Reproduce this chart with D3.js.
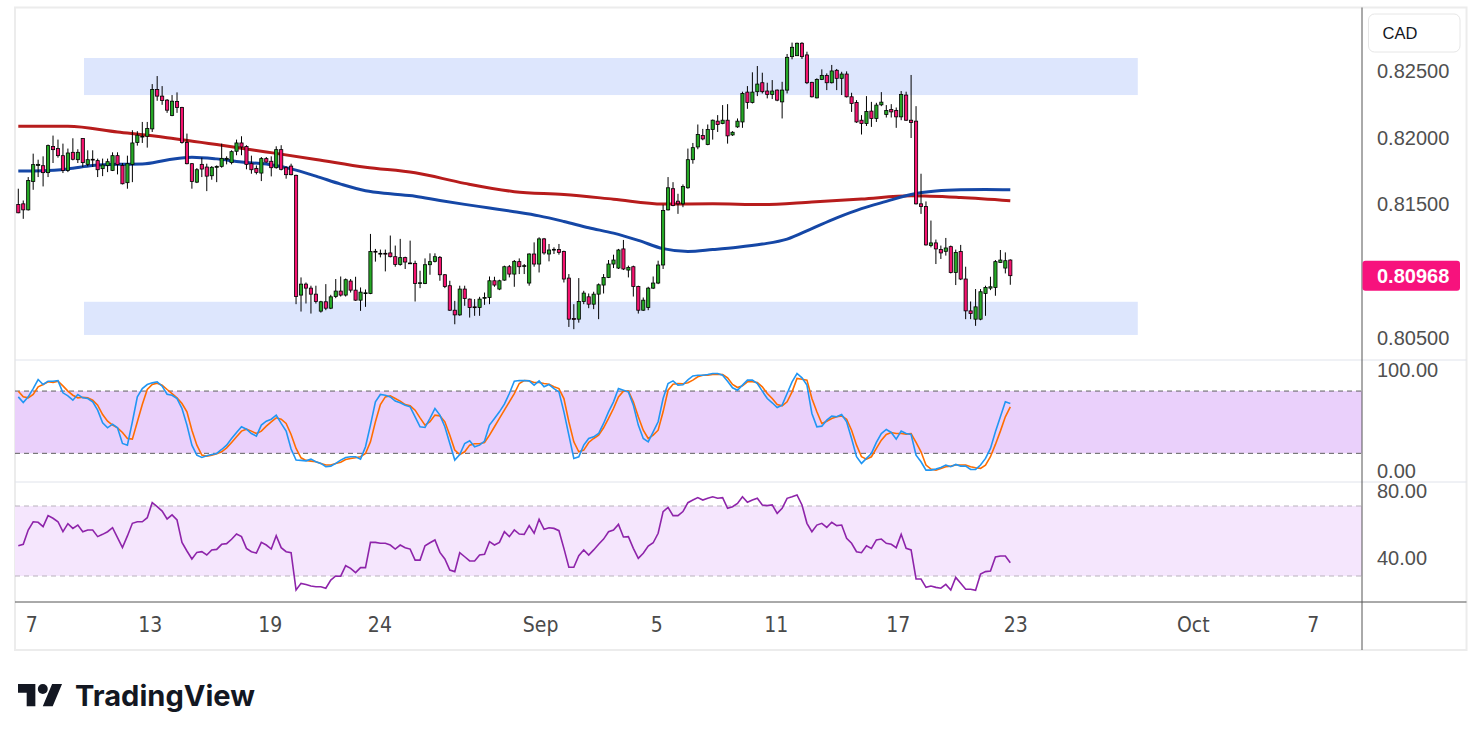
<!DOCTYPE html>
<html>
<head>
<meta charset="utf-8">
<script src="https://cdn.jsdelivr.net/npm/d3@7"></script>
<style>
  body { margin: 0; background: #fff; }
  svg { display: block; }
</style>
</head>
<body>
<svg id="chart" width="1482" height="740"></svg>
<script>
// 4h candles, USD/CAD-style quote in CAD
const opens = [
  0.81500,0.81505,0.81460,0.81672,0.81792,0.81790,0.81738,0.81933,0.81918,0.81865,
  0.81755,0.81890,0.81835,0.81993,0.81800,0.81838,0.81828,0.81768,0.81792,0.81755,
  0.81865,0.81792,0.81663,0.81800,0.81963,0.82005,0.82010,0.82065,0.82360,0.82310,
  0.82280,0.82165,0.82270,0.82225,0.81963,0.81805,0.81667,0.81800,0.81780,0.81715,
  0.81778,0.81785,0.81838,0.81813,0.81898,0.81960,0.81933,0.81805,0.81770,0.81735,
  0.81843,0.81823,0.81775,0.81910,0.81775,0.81787,0.81718,0.80823,0.80905,0.80875,
  0.80830,0.80703,0.80773,0.80725,0.80812,0.80853,0.80823,0.80928,0.80860,0.80785,
  0.80835,0.80835,0.81150,0.81130,0.81135,0.81138,0.81110,0.81052,0.81103,0.81063,
  0.81060,0.80910,0.80910,0.81050,0.81075,0.81105,0.80975,0.80893,0.80710,0.80675,
  0.80868,0.80793,0.80735,0.80730,0.80800,0.80805,0.80930,0.80868,0.80935,0.81035,
  0.80980,0.81073,0.81038,0.80913,0.81130,0.81055,0.81243,0.81130,0.81160,0.81163,
  0.81148,0.80950,0.80648,0.80643,0.80775,0.80810,0.80755,0.80830,0.80898,0.80955,
  0.81055,0.81025,0.81168,0.81010,0.81035,0.80887,0.80710,0.80730,0.80875,0.80913,
  0.81048,0.81460,0.81618,0.81525,0.81505,0.81625,0.81835,0.81930,0.82015,0.81948,
  0.82060,0.82123,0.82105,0.82130,0.82020,0.82080,0.82117,0.82340,0.82263,0.82343,
  0.82410,0.82348,0.82323,0.82355,0.82267,0.82355,0.82605,0.82612,0.82705,0.82618,
  0.82413,0.82297,0.82435,0.82465,0.82410,0.82503,0.82443,0.82475,0.82305,0.82263,
  0.82130,0.82105,0.82198,0.82143,0.82245,0.82173,0.82210,0.82203,0.82155,0.82318,
  0.82130,0.82123,0.81505,0.81485,0.81193,0.81213,0.81163,0.81150,0.81185,0.80992,
  0.81148,0.80943,0.80705,0.80643,0.80643,0.80835,0.80875,0.80880,0.81067,0.81025,
  0.81085
];
const highs = [
  0.81618,0.81530,0.81705,0.81880,0.81835,0.81860,0.81948,0.82015,0.81985,0.81955,
  0.81918,0.81995,0.81913,0.81995,0.81905,0.81905,0.81843,0.81843,0.81843,0.81890,
  0.81890,0.81810,0.81865,0.82055,0.82048,0.82117,0.82117,0.82400,0.82460,0.82385,
  0.82288,0.82318,0.82338,0.82230,0.82030,0.81810,0.81772,0.81850,0.81805,0.81787,
  0.81792,0.81955,0.81860,0.81905,0.81985,0.82010,0.81943,0.81865,0.81792,0.81855,
  0.81855,0.81860,0.81935,0.81943,0.81785,0.81805,0.81723,0.80955,0.80917,0.80893,
  0.80893,0.80780,0.80905,0.80825,0.80943,0.80962,0.80947,0.80943,0.80960,0.80880,
  0.80865,0.81280,0.81168,0.81163,0.81163,0.81268,0.81193,0.81243,0.81110,0.81230,
  0.81080,0.81005,0.81097,0.81135,0.81135,0.81115,0.80980,0.80930,0.80780,0.80893,
  0.80893,0.80797,0.80793,0.80810,0.80842,0.80962,0.80960,0.80938,0.81043,0.81048,
  0.81085,0.81097,0.81055,0.81135,0.81217,0.81255,0.81250,0.81205,0.81180,0.81205,
  0.81155,0.80980,0.80755,0.80950,0.80855,0.80835,0.80848,0.80910,0.80980,0.81085,
  0.81125,0.81168,0.81235,0.81043,0.81043,0.80893,0.80805,0.80885,0.80962,0.81080,
  0.81498,0.81705,0.81667,0.81580,0.81650,0.81918,0.81960,0.82098,0.82065,0.82098,
  0.82135,0.82168,0.82243,0.82250,0.82048,0.82143,0.82343,0.82385,0.82488,0.82535,
  0.82485,0.82410,0.82430,0.82360,0.82417,0.82625,0.82710,0.82710,0.82713,0.82642,
  0.82417,0.82443,0.82510,0.82480,0.82543,0.82513,0.82492,0.82495,0.82335,0.82280,
  0.82168,0.82310,0.82267,0.82260,0.82340,0.82243,0.82250,0.82225,0.82348,0.82343,
  0.82468,0.82235,0.81730,0.81523,0.81380,0.81238,0.81193,0.81250,0.81193,0.81163,
  0.81198,0.81035,0.80775,0.80868,0.80868,0.80893,0.80960,0.81085,0.81160,0.81142,
  0.81090
];
const lows = [
  0.81435,0.81393,0.81455,0.81610,0.81705,0.81635,0.81705,0.81810,0.81850,0.81735,
  0.81742,0.81830,0.81810,0.81780,0.81785,0.81780,0.81705,0.81712,0.81742,0.81750,
  0.81725,0.81650,0.81618,0.81667,0.81940,0.81960,0.81925,0.82042,0.82275,0.82245,
  0.82185,0.82160,0.82185,0.81955,0.81800,0.81618,0.81660,0.81705,0.81600,0.81685,
  0.81667,0.81775,0.81800,0.81800,0.81868,0.81868,0.81763,0.81730,0.81725,0.81675,
  0.81813,0.81710,0.81768,0.81755,0.81693,0.81718,0.80755,0.80700,0.80760,0.80685,
  0.80760,0.80692,0.80710,0.80718,0.80800,0.80812,0.80812,0.80842,0.80780,0.80705,
  0.80735,0.80830,0.81073,0.81105,0.81000,0.81105,0.81035,0.81043,0.81018,0.81055,
  0.80775,0.80875,0.80905,0.80975,0.81067,0.80930,0.80875,0.80705,0.80605,0.80668,
  0.80743,0.80655,0.80668,0.80668,0.80750,0.80755,0.80885,0.80860,0.80930,0.80955,
  0.80885,0.80980,0.80980,0.80893,0.81035,0.80992,0.81125,0.81075,0.81130,0.81125,
  0.80917,0.80585,0.80568,0.80617,0.80755,0.80725,0.80718,0.80643,0.80835,0.80950,
  0.81025,0.81018,0.81010,0.80955,0.80812,0.80685,0.80705,0.80710,0.80868,0.80905,
  0.81018,0.81455,0.81487,0.81430,0.81480,0.81618,0.81805,0.81913,0.81980,0.81943,
  0.81985,0.82042,0.82100,0.81955,0.82013,0.82073,0.82073,0.82215,0.82255,0.82310,
  0.82330,0.82293,0.82288,0.82272,0.82143,0.82330,0.82585,0.82610,0.82588,0.82400,
  0.82300,0.82293,0.82430,0.82355,0.82405,0.82355,0.82318,0.82300,0.82192,0.82110,
  0.82023,0.82087,0.82080,0.82117,0.82235,0.82150,0.82150,0.82073,0.82130,0.82125,
  0.81997,0.81500,0.81430,0.81193,0.81180,0.81055,0.81093,0.81118,0.80985,0.80898,
  0.80935,0.80643,0.80643,0.80593,0.80635,0.80668,0.80860,0.80818,0.81063,0.80985,
  0.80900
];
const closes = [
  0.81438,0.81460,0.81680,0.81798,0.81800,0.81738,0.81940,0.81910,0.81865,0.81755,
  0.81885,0.81838,0.81890,0.81813,0.81835,0.81833,0.81760,0.81795,0.81820,0.81865,
  0.81798,0.81655,0.81805,0.81960,0.82018,0.82010,0.82068,0.82360,0.82310,0.82278,
  0.82205,0.82272,0.82225,0.81963,0.81805,0.81672,0.81760,0.81765,0.81712,0.81778,
  0.81785,0.81845,0.81845,0.81895,0.81960,0.81930,0.81800,0.81760,0.81740,0.81843,
  0.81817,0.81775,0.81910,0.81763,0.81723,0.81723,0.80812,0.80905,0.80875,0.80830,
  0.80775,0.80773,0.80725,0.80810,0.80853,0.80823,0.80938,0.80860,0.80785,0.80845,
  0.80840,0.81148,0.81145,0.81135,0.81130,0.81110,0.81052,0.81103,0.81070,0.81058,
  0.80910,0.80915,0.81050,0.81073,0.81110,0.80975,0.80887,0.80710,0.80675,0.80868,
  0.80797,0.80730,0.80730,0.80793,0.80805,0.80930,0.80898,0.80930,0.81035,0.80980,
  0.81075,0.81035,0.81043,0.81130,0.81055,0.81243,0.81138,0.81160,0.81165,0.81142,
  0.80943,0.80643,0.80640,0.80775,0.80838,0.80755,0.80830,0.80900,0.80955,0.81055,
  0.81085,0.81160,0.81018,0.81030,0.80887,0.80710,0.80785,0.80875,0.80913,0.81048,
  0.81455,0.81625,0.81493,0.81505,0.81635,0.81835,0.81925,0.82023,0.81990,0.82060,
  0.82130,0.82098,0.82130,0.82013,0.82040,0.82123,0.82330,0.82263,0.82340,0.82400,
  0.82343,0.82323,0.82348,0.82280,0.82355,0.82600,0.82675,0.82705,0.82605,0.82410,
  0.82305,0.82435,0.82465,0.82410,0.82498,0.82443,0.82475,0.82305,0.82255,0.82117,
  0.82105,0.82195,0.82143,0.82243,0.82265,0.82203,0.82192,0.82155,0.82323,0.82130,
  0.82113,0.81505,0.81485,0.81198,0.81213,0.81168,0.81138,0.81175,0.80992,0.81142,
  0.80943,0.80705,0.80685,0.80735,0.80848,0.80880,0.80885,0.81073,0.81085,0.81080,
  0.80968
];

// moving averages, read every 10 (slow) / 5 (fast) candles
const maSlowIdx = d3.range(1, 202, 10);
const maSlow = [
  0.82085,0.82084,0.82042,0.81999,0.81948,0.81893,0.81837,0.81778,0.81737,0.81658,
  0.81596,0.81574,0.81540,0.81504,0.81505,0.81500,0.81519,0.81541,0.81565,0.81552,
  0.81528
];
const maFastIdx = d3.range(1, 202, 5);
const maFast = [
  0.81751,0.81753,0.81766,0.81791,0.81800,0.81802,0.81832,0.81854,0.81841,0.81817,
  0.81802,0.81766,0.81712,0.81652,0.81603,0.81580,0.81562,0.81530,0.81501,0.81474,
  0.81446,0.81415,0.81373,0.81326,0.81286,0.81232,0.81170,0.81149,0.81163,0.81180,
  0.81204,0.81241,0.81320,0.81400,0.81469,0.81523,0.81575,0.81601,0.81611,0.81613,
  0.81610
];

// stochastic %K / %D
const stochK = [
  74.4,69.0,74.4,82.4,91.1,86.3,89.5,89.5,90.1,78.3,
  75.4,71.2,76.7,73.5,72.8,69.6,61.6,49.4,44.6,48.1,
  44.6,29.5,27.9,50.4,74.4,82.4,86.3,87.9,88.9,84.7,
  77.0,76.0,72.8,63.2,47.2,27.9,18.3,16.0,17.6,18.9,
  19.9,23.7,27.9,34.3,40.1,45.6,43.3,39.1,36.6,47.2,
  51.0,52.9,56.8,48.8,41.4,24.1,13.5,13.2,12.8,14.4,
  11.9,10.3,7.1,7.7,10.3,13.5,16.0,16.7,16.7,14.4,
  26.3,47.2,69.6,76.7,76.0,74.4,70.3,68.7,66.4,64.8,
  55.2,45.6,44.9,53.6,63.2,56.8,45.6,29.5,13.5,18.9,
  29.5,32.1,26.3,27.9,31.8,47.2,53.6,60.0,67.4,77.6,
  89.5,90.1,90.1,89.8,85.7,89.8,84.1,86.3,82.4,79.2,
  60.0,37.5,15.1,16.7,27.9,34.3,35.9,39.1,48.8,60.0,
  69.6,82.4,80.8,79.2,66.4,47.2,34.3,31.1,40.7,50.4,
  72.8,87.3,89.8,85.7,86.0,90.7,94.6,95.3,95.3,95.9,
  96.9,96.9,95.3,89.5,83.1,80.8,85.7,90.5,90.5,87.3,
  79.9,72.8,68.7,64.2,66.4,77.6,88.9,96.9,92.7,85.7,
  58.4,45.6,46.2,52.0,55.8,55.2,57.4,50.4,34.3,16.7,
  10.3,15.1,19.9,30.5,39.1,43.0,40.1,33.7,41.4,39.1,
  38.2,18.3,11.9,3.8,3.8,4.8,6.4,8.7,7.1,9.3,
  7.7,7.7,4.5,4.5,8.7,15.1,24.7,40.7,55.2,69.6,
  68.0
];
const stochD = [
  79.9,74.4,73.5,76.7,84.1,86.3,88.9,88.2,89.5,85.0,
  79.9,76.0,73.5,74.1,73.5,71.2,66.4,57.4,51.0,47.2,
  44.6,40.1,34.3,33.7,50.4,67.0,81.5,86.3,87.6,85.7,
  81.5,77.6,73.5,68.0,60.0,42.3,27.9,18.3,17.3,18.3,
  19.6,21.5,25.3,30.5,35.9,41.4,43.3,41.4,39.1,41.4,
  46.2,50.4,54.2,52.9,48.8,38.2,24.7,15.7,13.2,12.5,
  11.9,10.3,8.7,8.7,10.3,11.5,14.0,15.1,15.7,16.7,
  19.9,31.1,50.4,67.0,74.4,75.4,72.8,70.3,67.0,65.8,
  61.6,54.2,47.2,50.4,56.8,56.1,50.4,37.5,23.1,18.9,
  21.5,27.9,29.2,29.2,30.5,37.5,45.6,53.6,61.6,69.6,
  77.6,87.3,90.1,89.8,88.2,88.2,87.3,86.6,84.1,82.4,
  72.8,50.4,31.1,21.5,23.1,30.5,34.3,37.5,44.6,53.6,
  63.2,74.4,79.9,79.9,69.6,55.2,42.3,34.3,37.5,42.3,
  60.0,80.8,86.6,87.3,87.0,88.0,90.5,93.7,95.3,95.3,
  95.9,96.2,95.9,92.7,86.3,83.4,85.0,88.9,88.9,88.2,
  84.1,77.6,72.8,67.0,65.8,69.6,79.2,92.1,91.4,90.5,
  72.8,60.0,48.8,51.0,53.6,55.2,56.1,52.9,42.3,27.9,
  16.7,14.4,16.7,24.7,32.7,38.2,40.1,39.1,39.1,38.5,
  39.1,30.5,21.5,8.7,4.8,3.8,5.5,7.1,7.7,8.7,
  8.7,8.7,7.1,6.1,5.5,8.7,16.7,28.6,41.4,55.2,
  64.8
];

// RSI
const rsi = [
  47.3,48.1,56.3,61.0,60.7,58.2,64.5,63.0,61.0,55.3,
  59.9,57.2,59.1,55.3,56.3,56.3,52.5,53.8,55.3,57.6,
  51.9,46.2,52.9,60.1,61.0,61.0,63.3,71.9,69.6,67.1,
  62.6,64.9,62.0,49.2,44.3,39.7,43.5,43.9,42.0,44.9,
  45.2,48.1,48.5,51.0,54.0,52.5,45.8,43.9,43.1,49.2,
  47.7,45.4,53.0,46.2,43.9,43.3,22.0,25.8,25.2,24.3,
  23.9,23.9,23.0,27.7,30.0,29.9,35.9,34.4,31.9,34.8,
  34.8,49.2,49.2,48.7,48.7,47.7,45.4,47.7,46.2,45.4,
  39.1,39.1,47.3,49.0,50.6,43.5,39.7,33.4,32.5,43.3,
  41.0,38.6,38.6,42.0,42.4,49.6,47.7,49.2,55.3,52.5,
  56.3,54.0,53.8,58.8,54.4,62.4,56.7,57.6,57.2,55.9,
  45.8,35.0,35.0,41.6,44.9,42.0,44.9,48.1,51.1,55.3,
  56.3,59.5,52.3,52.5,45.8,40.1,43.0,47.1,49.0,54.4,
  66.8,69.2,64.5,64.5,66.8,71.9,73.4,74.8,73.4,74.4,
  75.3,74.4,74.8,68.7,69.6,71.5,75.3,72.1,73.4,74.4,
  70.6,70.2,70.6,65.8,68.7,74.4,75.3,76.3,70.6,60.1,
  55.3,59.1,60.1,57.8,60.7,58.8,59.1,51.5,48.7,43.9,
  43.3,47.3,45.8,50.6,51.1,48.7,48.1,46.2,53.8,45.8,
  44.9,28.3,28.3,23.5,24.3,23.5,23.0,25.2,22.0,29.2,
  25.8,22.4,22.4,21.8,31.1,32.5,32.9,40.9,41.4,41.4,
  37.6
];

// supply / demand zones (candle-index span, price top/bottom)
const zoneSpan = [14.25, 226.7];
const zoneTops = [0.82595, 0.80773];
const zoneBottoms = [0.82318, 0.80525];

// axis labels
const priceTicks = [0.825, 0.820, 0.815, 0.805];
const stochTicks = [0, 100];
const rsiTicks = [40, 80];
const timeTickIdx = [3.6, 27.5, 51.7, 73.8, 106.2, 129.6, 153.7, 178.3, 202.0, 237.8, 262.0];
const timeTickLabels = ['7', '13', '19', '24', 'Sep', '5', '11', '17', '23', 'Oct', '7'];
const currency = 'CAD';

// layout
const paneLeft = 15, paneRight = 1362, frameRight = 1466.5;
const mainTop = 7.5, mainBottom = 360, stochBottom = 482, rsiBottom = 602, frameBottom = 650;
const axisFont = '"Liberation Sans", Arial, sans-serif';
const timeFont = '"Liberation Sans Narrow", "DejaVu Sans Condensed", "Liberation Sans", sans-serif';
const upColor = '#25a825', downColor = '#f5136f';

const svg = d3.select('#chart');

const x = d3.scaleLinear().domain([1, 201]).range([18.3, 1010.3]);
const yPrice = d3.scaleLinear().domain([0.805, 0.825]).range([338.3, 70.7]);
const yStoch = d3.scaleLinear().domain([0, 100]).range([474.1, 370.3]);
const yRsi = d3.scaleLinear().domain([30, 70]).range([576, 506]);

// clip paths for the three panes
const defs = svg.append('defs');
[['clip-main', mainTop, mainBottom], ['clip-stoch', mainBottom, stochBottom], ['clip-rsi', stochBottom, rsiBottom]]
  .forEach(([id, top, bottom]) => {
    defs.append('clipPath').attr('id', id).append('rect')
      .attr('x', paneLeft).attr('y', top)
      .attr('width', paneRight - paneLeft).attr('height', bottom - top);
  });

// frame
svg.append('rect')
  .attr('x', paneLeft).attr('y', mainTop)
  .attr('width', frameRight - paneLeft).attr('height', frameBottom - mainTop)
  .attr('fill', 'none').attr('stroke', '#ececec').attr('stroke-width', 2);

// ---- main pane ----
const main = svg.append('g').attr('clip-path', 'url(#clip-main)');

main.selectAll('rect.zone')
  .data(zoneTops)
  .join('rect')
  .attr('class', 'zone')
  .attr('x', x(zoneSpan[0]))
  .attr('width', x(zoneSpan[1]) - x(zoneSpan[0]))
  .attr('y', d => yPrice(d))
  .attr('height', (d, i) => yPrice(zoneBottoms[i]) - yPrice(d))
  .attr('fill', '#dde6fd');

const maLine = idx => d3.line()
  .x((d, i) => x(idx[i]))
  .y(d => yPrice(d))
  .curve(d3.curveMonotoneX);

main.append('path')
  .attr('d', maLine(maSlowIdx)(maSlow))
  .attr('fill', 'none').attr('stroke', '#b71c1c').attr('stroke-width', 3);

main.append('path')
  .attr('d', maLine(maFastIdx)(maFast))
  .attr('fill', 'none').attr('stroke', '#1547a6').attr('stroke-width', 3);

const candles = closes.map((c, i) => ({ i: i + 1, o: opens[i], h: highs[i], l: lows[i], c }));

const candleG = main.selectAll('g.candle')
  .data(candles)
  .join('g')
  .attr('class', 'candle');

candleG.append('line')
  .attr('x1', d => x(d.i)).attr('x2', d => x(d.i))
  .attr('y1', d => yPrice(d.h)).attr('y2', d => yPrice(d.l))
  .attr('stroke', '#000').attr('stroke-width', 1);

candleG.append('rect')
  .attr('x', d => x(d.i) - 1.6)
  .attr('width', 3.2)
  .attr('y', d => yPrice(Math.max(d.o, d.c)))
  .attr('height', d => Math.max(0.8, Math.abs(yPrice(d.o) - yPrice(d.c))))
  .attr('fill', d => d.c >= d.o ? upColor : downColor)
  .attr('stroke', '#000').attr('stroke-width', 0.8);

// ---- stochastic pane ----
const stochG = svg.append('g').attr('clip-path', 'url(#clip-stoch)');

stochG.append('rect')
  .attr('x', paneLeft).attr('width', paneRight - paneLeft)
  .attr('y', yStoch(80)).attr('height', yStoch(20) - yStoch(80))
  .attr('fill', '#ead0fb');

stochG.selectAll('line.level')
  .data([80, 20])
  .join('line')
  .attr('class', 'level')
  .attr('x1', paneLeft).attr('x2', paneRight)
  .attr('y1', d => yStoch(d)).attr('y2', d => yStoch(d))
  .attr('stroke', '#5f5f5f').attr('stroke-width', 1).attr('stroke-dasharray', '5,4');

const stochLine = d3.line().x((d, i) => x(i + 1)).y(d => yStoch(d));

stochG.append('path')
  .attr('d', stochLine(stochD))
  .attr('fill', 'none').attr('stroke', '#ff6d00').attr('stroke-width', 1.6);

stochG.append('path')
  .attr('d', stochLine(stochK))
  .attr('fill', 'none').attr('stroke', '#2196f3').attr('stroke-width', 1.6);

// ---- RSI pane ----
const rsiG = svg.append('g').attr('clip-path', 'url(#clip-rsi)');

rsiG.append('rect')
  .attr('x', paneLeft).attr('width', paneRight - paneLeft)
  .attr('y', yRsi(70)).attr('height', yRsi(30) - yRsi(70))
  .attr('fill', '#f5e6fd');

rsiG.selectAll('line.level')
  .data([70, 30])
  .join('line')
  .attr('class', 'level')
  .attr('x1', paneLeft).attr('x2', paneRight)
  .attr('y1', d => yRsi(d)).attr('y2', d => yRsi(d))
  .attr('stroke', '#b9b2bd').attr('stroke-width', 1).attr('stroke-dasharray', '5,4');

rsiG.append('path')
  .attr('d', d3.line().x((d, i) => x(i + 1)).y(d => yRsi(d))(rsi))
  .attr('fill', 'none').attr('stroke', '#8e24aa').attr('stroke-width', 1.6);

// ---- separators and axis lines ----
svg.selectAll('line.sep')
  .data([mainBottom, stochBottom])
  .join('line')
  .attr('class', 'sep')
  .attr('x1', paneLeft).attr('x2', frameRight)
  .attr('y1', d => d).attr('y2', d => d)
  .attr('stroke', '#e0e3eb').attr('stroke-width', 1);

svg.append('line')
  .attr('x1', paneLeft).attr('x2', frameRight)
  .attr('y1', rsiBottom).attr('y2', rsiBottom)
  .attr('stroke', '#555').attr('stroke-width', 1);

svg.append('line')
  .attr('x1', paneRight).attr('x2', paneRight)
  .attr('y1', mainTop).attr('y2', frameBottom)
  .attr('stroke', '#555').attr('stroke-width', 1);

// ---- right axes ----
function rightAxis(scale, ticks, fmt) {
  const g = svg.append('g')
    .attr('transform', `translate(${paneRight},0)`)
    .call(d3.axisRight(scale).tickValues(ticks).tickSize(0).tickPadding(15).tickFormat(fmt));
  g.select('.domain').remove();
  g.attr('font-family', axisFont).attr('font-size', 20);
  g.selectAll('text').attr('fill', '#505050');
  return g;
}
rightAxis(yPrice, priceTicks, d3.format('.5f'));
// "0.00" and "80.00" sit on the pane border: push them apart a little
rightAxis(yStoch, stochTicks, d3.format('.2f'))
  .selectAll('.tick').filter(d => d === 0).select('text').attr('y', -3);
rightAxis(yRsi, rsiTicks, d3.format('.2f'))
  .selectAll('.tick').filter(d => d === 80).select('text').attr('y', 3);

// last price tag
const last = closes[closes.length - 1];
svg.append('rect')
  .attr('x', paneRight + 0.5).attr('y', yPrice(last) - 15)
  .attr('width', 97.5).attr('height', 30).attr('rx', 3)
  .attr('fill', '#f7127d');
svg.append('text')
  .attr('x', paneRight + 15).attr('y', yPrice(last))
  .attr('dy', '0.35em')
  .attr('font-family', axisFont).attr('font-size', 20).attr('font-weight', 'bold')
  .attr('fill', '#fff')
  .text(d3.format('.5f')(last));

// currency box
svg.append('rect')
  .attr('x', 1368.5).attr('y', 14).attr('width', 91.5).attr('height', 38).attr('rx', 6)
  .attr('fill', '#fff').attr('stroke', '#e6e6e6');
svg.append('text')
  .attr('x', 1382.5).attr('y', 33).attr('dy', '0.35em')
  .attr('font-family', axisFont).attr('font-size', 16.5)
  .attr('fill', '#131722')
  .text(currency);

// ---- time axis ----
const timeAxis = svg.append('g')
  .attr('transform', `translate(0,${rsiBottom})`)
  .call(d3.axisBottom(x).tickValues(timeTickIdx).tickSize(0).tickPadding(15)
    .tickFormat((d, i) => timeTickLabels[i]));
timeAxis.select('.domain').remove();
timeAxis.attr('font-family', timeFont).attr('font-size', 21);
timeAxis.selectAll('text').attr('fill', '#4a4a4a');

// ---- logo ----
const logo = svg.append('g').attr('transform', 'translate(18,679) scale(1.24)').attr('fill', '#131722');
logo.append('path').attr('d', 'M14 22H7V11H0V4h14v18zM28 22h-8l7.5-18h8L28 22z');
logo.append('circle').attr('cx', 20).attr('cy', 8).attr('r', 4);
svg.append('text')
  .attr('x', 75).attr('y', 706)
  .attr('font-family', 'Inter, "Liberation Sans", sans-serif')
  .attr('font-size', 29).attr('font-weight', 700)
  .attr('fill', '#131722')
  .attr('textLength', 180).attr('lengthAdjust', 'spacingAndGlyphs')
  .text('TradingView');
</script>
</body>
</html>
